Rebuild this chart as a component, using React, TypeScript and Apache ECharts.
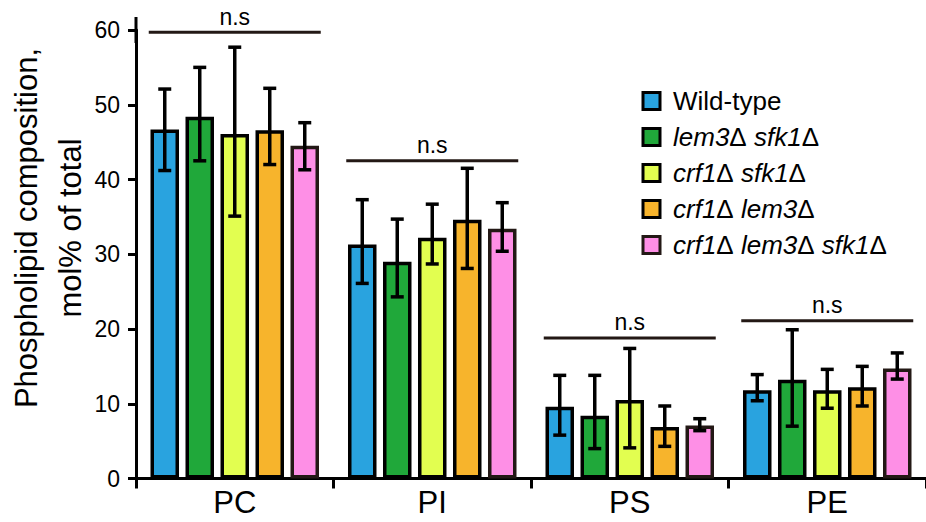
import React, { useEffect, useRef } from 'react';
import * as echarts from 'echarts';

const categories = ['PC', 'PI', 'PS', 'PE'];
const seriesNames = ['Wild-type', 'lem3Δ sfk1Δ', 'crf1Δ sfk1Δ', 'crf1Δ lem3Δ', 'crf1Δ lem3Δ sfk1Δ'];

const wildType = [46.7, 31.3, 9.6, 11.8];
const lem3sfk1 = [48.4, 29.0, 8.4, 13.2];
const crf1sfk1 = [46.1, 32.2, 10.5, 11.8];
const crf1lem3 = [46.6, 34.6, 6.9, 12.2];
const tripleMut = [44.5, 33.4, 7.1, 14.7];

const wildTypeErr = [[41.2, 52.1], [26.1, 37.3], [5.8, 13.8], [10.4, 13.9]];
const lem3sfk1Err = [[42.5, 55.0], [24.3, 34.7], [4.0, 13.8], [7.0, 19.9]];
const crf1sfk1Err = [[35.1, 57.7], [28.7, 36.7], [4.1, 17.4], [9.4, 14.6]];
const crf1lem3Err = [[42.0, 52.2], [28.1, 41.5], [4.3, 9.7], [9.7, 15.0]];
const tripleMutErr = [[41.3, 47.6], [30.4, 36.9], [6.4, 8.0], [13.3, 16.8]];

const nsLevels = [59.7, 42.5, 18.8, 21.1];
const nsLabel = 'n.s';

const yMin = 0;
const yMax = 60;
const yInterval = 10;

const titleLines = ['Phospholipid composition,', 'mol% of total'];

const values = [wildType, lem3sfk1, crf1sfk1, crf1lem3, tripleMut];
const errs = [wildTypeErr, lem3sfk1Err, crf1sfk1Err, crf1lem3Err, tripleMutErr];

const colors = ['#29a3df', '#20a83a', '#e2fe50', '#f7b42c', '#fe8fe6'];
const borderColors = ['#000000', '#000000', '#000000', '#000000', '#231815'];

const FONT = 'Liberation Sans, Arial, Helvetica, sans-serif';
const BORDER = 3.5;
const BAR_W = 28.5;
const GAP = 6.5;
const PITCH = BAR_W + GAP;

export default function App() {
  const ref = useRef<HTMLDivElement>(null);
  useEffect(() => {
    if (!ref.current) return;
    const chart = echarts.init(ref.current, null, { renderer: 'svg' });

    const errData: number[][] = [];
    errs.forEach((arr, s) => arr.forEach((e, c) => errData.push([c, s, e[0], e[1]])));
    const nsData = nsLevels.map((v, c) => [c, v]);

    const barSeries = values.map((vals, i) => ({
      type: 'bar',
      name: seriesNames[i],
      data: vals,
      barWidth: BAR_W,
      barGap: `${(GAP / BAR_W) * 100}%`,
      itemStyle: { color: colors[i], borderColor: borderColors[i], borderWidth: BORDER },
      z: 2,
    }));

    const legendFormatter = (name: string) =>
      name === 'Wild-type'
        ? `{n|${name}}`
        : name.replace(/([^Δ]+)/g, '{i|$1}').replace(/Δ/g, '{n|Δ}');

    chart.setOption({
      animation: false,
      grid: { left: 136, top: 30, right: -6, bottom: 43.5, containLabel: false },
      xAxis: {
        type: 'category',
        data: categories,
        boundaryGap: true,
        axisLine: { lineStyle: { color: '#000', width: 3 } },
        axisTick: { show: true, interval: 0, length: 10, lineStyle: { color: '#000', width: 3 } },
        axisLabel: { color: '#000', fontSize: 31, fontFamily: FONT, margin: 8, interval: 0 },
        splitLine: { show: false },
      },
      yAxis: {
        type: 'value',
        min: yMin,
        max: yMax,
        interval: yInterval,
        axisLine: {
          show: true,
          lineStyle: { color: '#000', width: 3 },
          symbol: ['none', 'rect'],
          symbolSize: [3, 26],
        },
        axisTick: { show: true, length: 8, lineStyle: { color: '#000', width: 3 } },
        axisLabel: { color: '#000', fontSize: 23, fontFamily: FONT, margin: 16 },
        splitLine: { show: false },
      },
      legend: {
        orient: 'vertical',
        left: 641.5,
        top: 88,
        padding: 0,
        itemGap: 10,
        itemWidth: 17,
        itemHeight: 17,
        icon: 'rect',
        data: seriesNames.map((n, i) => ({
          name: n,
          itemStyle: { color: colors[i], borderColor: borderColors[i], borderWidth: 3 },
        })),
        formatter: legendFormatter,
        textStyle: {
          padding: [0, 0, 0, 8],
          rich: {
            n: { fontSize: 26, fontFamily: FONT, color: '#000', lineHeight: 26 },
            i: { fontSize: 26, fontFamily: FONT, fontStyle: 'italic', color: '#000', lineHeight: 26 },
          },
        },
      },
      graphic: titleLines.map((t, i) => ({
        type: 'text',
        x: i === 0 ? 26 : 70,
        y: 228,
        rotation: Math.PI / 2,
        style: {
          text: t,
          font: `31px ${FONT}`,
          fill: '#000',
          textAlign: 'center',
          textVerticalAlign: 'middle',
        },
      })),
      series: [
        ...barSeries,
        {
          type: 'custom',
          name: 'errors',
          data: errData,
          encode: { x: 0, y: [2, 3] },
          z: 5,
          renderItem: (params: any, api: any) => {
            const c = api.value(0);
            const s = api.value(1);
            const lo = api.value(2);
            const hi = api.value(3);
            const x = api.coord([c, 0])[0] + (s - 2) * PITCH;
            const yLo = api.coord([c, lo])[1];
            const yHi = api.coord([c, hi])[1];
            const st = { stroke: '#000', lineWidth: 3.5 };
            const cap = 6.5;
            return {
              type: 'group',
              children: [
                { type: 'line', shape: { x1: x, y1: yLo, x2: x, y2: yHi }, style: st },
                { type: 'line', shape: { x1: x - cap, y1: yLo, x2: x + cap, y2: yLo }, style: st },
                { type: 'line', shape: { x1: x - cap, y1: yHi, x2: x + cap, y2: yHi }, style: st },
              ],
            };
          },
        },
        {
          type: 'custom',
          name: 'ns',
          data: nsData,
          encode: { x: 0, y: 1 },
          z: 5,
          renderItem: (params: any, api: any) => {
            const p = api.coord([api.value(0), api.value(1)]);
            const half = 2 * PITCH + BAR_W / 2 + BORDER / 2;
            return {
              type: 'group',
              children: [
                {
                  type: 'line',
                  shape: { x1: p[0] - half, y1: p[1], x2: p[0] + half, y2: p[1] },
                  style: { stroke: '#231815', lineWidth: 3 },
                },
                {
                  type: 'text',
                  x: p[0],
                  y: p[1] - 4,
                  style: {
                    text: nsLabel,
                    font: `23px ${FONT}`,
                    fill: '#000',
                    textAlign: 'center',
                    textVerticalAlign: 'bottom',
                  },
                },
              ],
            };
          },
        },
      ],
    });
    return () => chart.dispose();
  }, []);
  return (
    <div
      ref={ref}
      style={{ position: 'fixed', left: 0, top: 0, width: 926, height: 522, background: '#fff' }}
    />
  );
}
